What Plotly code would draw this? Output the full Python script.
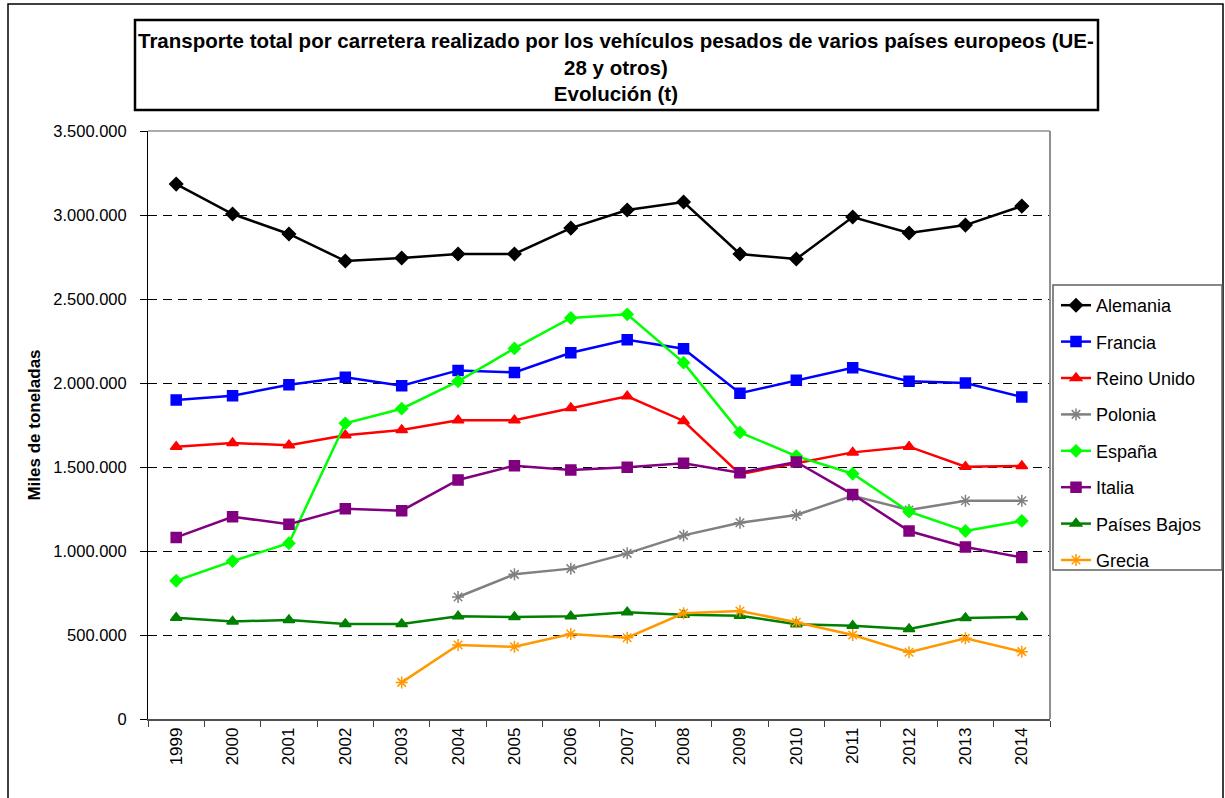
import plotly.graph_objects as go

years = [str(y) for y in range(1999, 2015)]

alemania = [3184000, 3006000, 2887000, 2726000, 2744000, 2768000, 2768000, 2922000,
            3030000, 3077000, 2768000, 2738000, 2988000, 2893000, 2940000, 3053000]
francia = [1899000, 1924000, 1990000, 2034000, 1984000, 2075000, 2063000, 2180000,
           2258000, 2204000, 1939000, 2016000, 2091000, 2010000, 2000000, 1917000]
reino_unido = [1621000, 1643000, 1629000, 1689000, 1720000, 1778000, 1778000, 1851000,
               1921000, 1774000, 1458000, 1522000, 1587000, 1621000, 1502000, 1506000]
polonia = [None, None, None, None, None, 726000, 861000, 895000,
           986000, 1093000, 1168000, 1214000, 1329000, 1244000, 1299000, 1299000]
espana = [823000, 940000, 1046000, 1760000, 1847000, 2010000, 2206000, 2387000,
          2409000, 2121000, 1706000, 1565000, 1460000, 1234000, 1119000, 1179000]
italia = [1081000, 1204000, 1159000, 1252000, 1240000, 1423000, 1508000, 1482000,
          1498000, 1522000, 1466000, 1530000, 1337000, 1119000, 1024000, 962000]
paises_bajos = [603000, 581000, 589000, 565000, 565000, 611000, 607000, 611000,
                635000, 621000, 615000, 564000, 555000, 536000, 601000, 607000]
grecia = [None, None, None, None, 218000, 440000, 430000, 506000,
          484000, 629000, 643000, 576000, 500000, 397000, 480000, 401000]

series = [
    ("Alemania", alemania, "#000000", "diamond", 10),
    ("Francia", francia, "#0000FF", "square", 10),
    ("Reino Unido", reino_unido, "#FF0000", "triangle-up", 10),
    ("Polonia", polonia, "#808080", "asterisk-open", 10),
    ("España", espana, "#00FF00", "diamond", 9),
    ("Italia", italia, "#800080", "square", 10),
    ("Países Bajos", paises_bajos, "#008000", "triangle-up", 10),
    ("Grecia", grecia, "#FF9900", "asterisk-open", 10),
]

W, H = 1225, 798
L, R, T, B = 148, 1050, 131, 719

def px(x):
    return (x - L) / (R - L)

def py(y):
    return (B - y) / (B - T)

fig = go.Figure()
for i, (name, vals, color, sym, size) in enumerate(series):
    fig.add_trace(go.Scatter(
        x=years, y=vals, name=name, mode="lines+markers",
        line=dict(color=color, width=2.5),
        marker=dict(symbol=sym, size=size, color=color,
                    line=dict(color=color, width=1.5)),
        legendgroup=f"g{i}",
    ))

font = "Liberation Sans, Arial, sans-serif"

fig.update_layout(
    width=W, height=H,
    margin=dict(l=L, r=W - R, t=T, b=H - B, pad=0),
    paper_bgcolor="white", plot_bgcolor="white",
    separators=",.",
    font=dict(family=font, size=16, color="black"),
    showlegend=True,
    legend=dict(
        x=px(1056), y=py(287), xanchor="left", yanchor="top",
        bgcolor="rgba(0,0,0,0)", borderwidth=0,
        font=dict(family=font, size=18, color="black"),
        traceorder="grouped", tracegroupgap=10,
        itemwidth=30,
    ),
    xaxis=dict(
        type="category", tickson="boundaries",
        range=[-0.5, 15.5],
        tickangle=-90, tickfont=dict(size=17),
        ticks="outside", ticklen=6, tickcolor="#404040",
        showline=True, linecolor="#505050", linewidth=1.5,
        showgrid=False, zeroline=False,
    ),
    yaxis=dict(
        range=[0, 3500000], dtick=500000, tickformat=",d",
        tickfont=dict(size=16.5),
        ticks="outside", ticklen=7, tickcolor="black",
        ticklabelstandoff=10,
        showline=True, linecolor="black", linewidth=1,
        showgrid=True, gridcolor="#000000", griddash="9px,6px", gridwidth=1,
        zeroline=False,
        title=dict(text="<b>Miles de toneladas</b>", font=dict(size=17), standoff=8),
    ),
    shapes=[
        # outer chart border
        dict(type="rect", xref="paper", yref="paper",
             x0=px(8), x1=px(1223), y0=py(810), y1=py(4),
             line=dict(color="black", width=1.5), layer="below"),
        # plot area top/right border
        dict(type="line", xref="paper", yref="paper",
             x0=0, x1=1, y0=1, y1=1, line=dict(color="#909090", width=1.5)),
        dict(type="line", xref="paper", yref="paper",
             x0=1, x1=1, y0=0, y1=1, line=dict(color="#909090", width=2)),
        # title box
        dict(type="rect", xref="paper", yref="paper",
             x0=px(135), x1=px(1098), y0=py(110), y1=py(20),
             line=dict(color="black", width=2.5), fillcolor="white"),
        # legend box
        dict(type="rect", xref="paper", yref="paper",
             x0=px(1053), x1=px(1222), y0=py(570), y1=py(285),
             line=dict(color="#606060", width=1.5)),
    ],
    annotations=[
        dict(xref="paper", yref="paper", x=px(616), y=py(67),
             xanchor="center", yanchor="middle", showarrow=False,
             text="<b>Transporte total por carretera realizado por los vehículos pesados de varios países europeos (UE-<br>28 y otros)<br>Evolución (t)</b>",
             font=dict(family=font, size=20.5, color="black"), align="center"),
    ],
)

fig.write_html("out.html", config={"displayModeBar": False},
               post_script="document.body.style.margin='0';document.body.style.overflow='hidden';")
